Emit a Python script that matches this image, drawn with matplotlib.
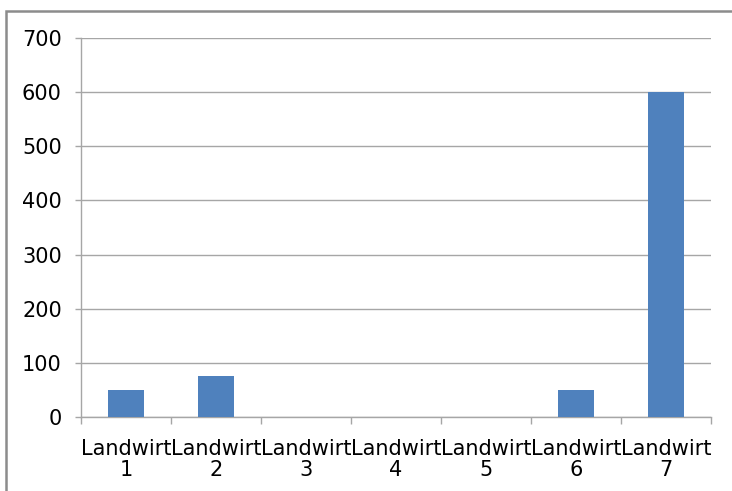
import matplotlib
matplotlib.use("Agg")
import matplotlib.pyplot as plt
from matplotlib.patches import Rectangle

categories = ["Landwirt\n1", "Landwirt\n2", "Landwirt\n3", "Landwirt\n4",
              "Landwirt\n5", "Landwirt\n6", "Landwirt\n7"]
values = [50, 75, 0, 0, 0, 50, 600]
y_ticks = [0, 100, 200, 300, 400, 500, 600, 700]

W, H = 732, 491
DPI = 100
plt.rcParams['font.family'] = ['DejaVu Sans']

fig = plt.figure(figsize=(W / DPI, H / DPI), dpi=DPI)
fig.patch.set_facecolor("white")

# chart frame
fig.add_artist(Rectangle((6 / W, -0.05), 1.1, 1 - 11 / H + 0.05,
                         transform=fig.transFigure, fill=False,
                         edgecolor="#8c8c8c", linewidth=1.8))

left, right, top, bottom = 81, 711, 38, 417
ax = fig.add_axes([left / W, 1 - bottom / H, (right - left) / W, (bottom - top) / H])

grid_c = "#a6a6a6"
x = list(range(len(categories)))
ax.bar(x, values, width=0.4, color="#4F81BD", zorder=3)

ax.set_xlim(-0.5, len(categories) - 0.5)
ax.set_ylim(0, 700)
ax.set_yticks(y_ticks)
ax.set_yticklabels([str(v) for v in y_ticks])
ax.set_xticks(x)
ax.set_xticklabels(categories, linespacing=1.05)
ax.set_xticks([i - 0.5 for i in range(len(categories) + 1)], minor=True)

ax.yaxis.grid(True, color=grid_c, linewidth=1.0, zorder=0)
ax.set_axisbelow(True)

for s in ("top", "right"):
    ax.spines[s].set_visible(False)
for s in ("left", "bottom"):
    ax.spines[s].set_color(grid_c)
    ax.spines[s].set_linewidth(1.0)

ax.tick_params(axis="y", direction="out", length=4.3, width=1.0, color=grid_c,
               labelsize=15, pad=9.5, labelcolor="black")
ax.tick_params(axis="x", which="major", length=0, labelsize=15, pad=16,
               labelcolor="black")
ax.tick_params(axis="x", which="minor", direction="out", length=5, width=1.0,
               color=grid_c)

fig.savefig("out.png", dpi=DPI)
